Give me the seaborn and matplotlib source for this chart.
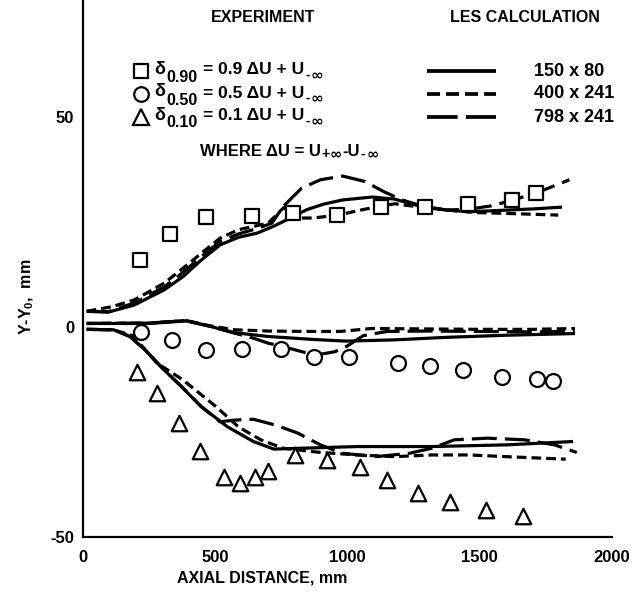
import matplotlib
matplotlib.use("Agg")
import matplotlib.pyplot as plt
import seaborn as sns
from matplotlib.lines import Line2D

sns.set_theme(style="white")
plt.rcParams['font.family'] = ['Liberation Sans', 'DejaVu Sans']
plt.rcParams['font.weight'] = 'bold'
plt.rcParams['mathtext.default'] = 'regular'
plt.rcParams['lines.scale_dashes'] = False

# ---------------- data ----------------
# experiment
sq_x = [216, 329, 466, 640, 795, 962, 1127, 1294, 1457, 1623, 1713]
sq_y = [16.0, 22.2, 26.2, 26.6, 27.2, 26.7, 28.6, 28.6, 29.3, 30.4, 32.0]
ci_x = [219, 336, 466, 603, 748, 874, 1006, 1190, 1313, 1438, 1584, 1716, 1776]
ci_y = [-1.2, -3.0, -5.4, -5.2, -5.2, -7.2, -7.2, -8.4, -9.2, -10.2, -11.8, -12.4, -12.9]
tr_x = [205, 282, 364, 444, 535, 593, 652, 701, 803, 923, 1048, 1150, 1266, 1389, 1523, 1663]
tr_y = [-10.6, -15.7, -22.7, -29.4, -35.7, -37.1, -35.7, -34.2, -30.4, -31.6, -33.2, -36.4, -39.5, -41.7, -43.5, -44.9]

# LES 150 x 80 (solid)
s90_x = [15, 97, 195, 308, 378, 448, 519, 588, 659, 720, 785, 847, 910, 982, 1094, 1179, 1263, 1375, 1460, 1572, 1712, 1811]
s90_y = [3.8, 3.6, 5.3, 8.9, 12.0, 16.0, 19.6, 21.4, 22.4, 24.0, 26.0, 28.0, 29.3, 30.3, 31.0, 30.5, 29.0, 27.9, 27.5, 27.8, 28.2, 28.6]
s50_x = [15, 250, 391, 476, 574, 701, 870, 996, 1179, 1375, 1600, 1860]
s50_y = [0.9, 0.9, 1.5, 0.3, -1.3, -2.2, -2.9, -3.3, -3.0, -2.4, -1.9, -1.5]
s10_x = [15, 116, 179, 242, 305, 368, 448, 547, 645, 722, 827, 1038, 1319, 1600, 1853]
s10_y = [-0.5, -0.6, -2.2, -5.8, -10.0, -13.8, -18.9, -23.7, -27.2, -29.0, -28.8, -28.4, -28.4, -28.0, -27.2]

# LES 400 x 241 (short dash)
d90_x = [15, 111, 195, 308, 378, 448, 519, 588, 701, 760, 800, 870, 965, 1066, 1179, 1263, 1375, 1488, 1600, 1797]
d90_y = [3.8, 4.9, 6.5, 10.5, 14.0, 17.6, 21.2, 23.2, 24.8, 28.5, 26.0, 26.0, 26.7, 28.1, 29.4, 28.7, 27.9, 27.3, 27.1, 26.7]
d50_x = [15, 250, 391, 476, 574, 700, 850, 973, 1090, 1300, 1500, 1700, 1860]
d50_y = [0.9, 1.0, 1.6, 0.4, -0.6, -0.9, -1.0, -1.0, -0.3, -0.4, -0.5, -0.5, -0.3]
d10_x = [15, 116, 190, 280, 378, 504, 588, 673, 757, 898, 1038, 1179, 1319, 1460, 1600, 1825]
d10_y = [-0.5, -0.6, -2.0, -8.5, -12.5, -18.9, -23.7, -26.8, -28.8, -29.8, -30.4, -30.8, -30.4, -30.4, -30.8, -31.4]

# LES 798 x 241 (long dash)
l90_x = [15, 97, 195, 308, 378, 448, 519, 588, 659, 715, 757, 827, 898, 982, 1066, 1137, 1207, 1291, 1375, 1460, 1544, 1628, 1727, 1839]
l90_y = [3.8, 3.7, 5.8, 9.6, 13.0, 16.8, 20.4, 22.2, 23.5, 24.8, 28.7, 33.1, 35.1, 36.0, 34.7, 32.3, 30.3, 28.7, 27.9, 28.1, 28.9, 30.3, 32.3, 35.1]
l50_x = [15, 250, 391, 476, 574, 645, 701, 757, 827, 884, 954, 996, 1060, 1150, 1300, 1500, 1700, 1860]
l50_y = [0.9, 1.0, 1.6, 0.3, -1.4, -2.6, -3.8, -4.6, -5.8, -6.6, -5.8, -4.6, -2.0, -1.0, -0.9, -1.0, -1.1, -1.0]
l10_x = [15, 116, 179, 242, 305, 368, 448, 519, 574, 645, 729, 813, 898, 982, 1108, 1235, 1319, 1404, 1530, 1670, 1783, 1867]
l10_y = [-0.5, -0.6, -2.2, -5.8, -10.0, -13.8, -18.9, -22.5, -22.1, -21.9, -23.3, -25.2, -28.0, -30.0, -30.8, -30.0, -28.8, -26.8, -26.4, -26.8, -28.0, -29.8]

x_ticks = [0, 500, 1000, 1500, 2000]
y_ticks = [-50, 0, 50]
exp_subs = ["0.90", "0.50", "0.10"]
exp_coefs = ["0.9", "0.5", "0.1"]
les_labels = ["150 x 80", "400 x 241", "798 x 241"]

# ---------------- figure ----------------
W, H = 642, 595
fig = plt.figure(figsize=(W / 100, H / 100), dpi=100)
ax = fig.add_axes([82.7 / W, 57.7 / H, 529.3 / W, 537.3 / H])
ax.set_xlim(0, 2000)
ax.set_ylim(-50, 77.9)

LW = 2.3
SHORT = (0, (7.0, 3.6))
LONG = (0, (18.0, 5.8))

def curve(x, y, ls):
    sns.lineplot(x=x, y=y, ax=ax, color='black', lw=LW, sort=False,
                 estimator=None, legend=False)
    ln = ax.lines[-1]
    ln.set_linestyle(ls)
    ln.set_solid_capstyle('butt')

for (x, y) in [(s90_x, s90_y), (s50_x, s50_y), (s10_x, s10_y)]:
    curve(x, y, '-')
for (x, y) in [(d90_x, d90_y), (d50_x, d50_y), (d10_x, d10_y)]:
    curve(x, y, SHORT)
for (x, y) in [(l90_x, l90_y), (l50_x, l50_y), (l10_x, l10_y)]:
    curve(x, y, LONG)

mk = dict(color='white', edgecolor='black', linewidth=1.6, ax=ax, legend=False, zorder=5)
sns.scatterplot(x=sq_x, y=sq_y, marker='s', s=105, **mk)
sns.scatterplot(x=ci_x, y=ci_y, marker='o', s=115, **mk)
sns.scatterplot(x=tr_x, y=tr_y, marker='^', s=125, **mk)

for sp in ['top', 'right']:
    ax.spines[sp].set_visible(False)
for sp in ['left', 'bottom']:
    ax.spines[sp].set_color('black')
    ax.spines[sp].set_linewidth(1.6)

ax.set_xticks(x_ticks)
ax.set_yticks(y_ticks)
ax.set_xticklabels([str(v) for v in x_ticks])
ax.set_yticklabels([str(v) for v in y_ticks])
ax.tick_params(axis='both', direction='in', length=16, width=1.4, color='black',
               labelsize=12, labelcolor='black')
ax.tick_params(axis='x', pad=9)
ax.tick_params(axis='y', pad=6)
for t in ax.get_xticklabels() + ax.get_yticklabels():
    t.set_fontweight('bold')

def fx(px):
    return px / W

def fy(py):
    return 1 - py / H

renderer = fig.canvas.get_renderer()

def compose(x0, y0, pieces):
    """pieces: list of (text, fontsize, dy_px, gap_px, family)"""
    x = x0
    for txt, fs, dy, gap, fam in pieces:
        t = fig.text(fx(x + gap), fy(y0 + dy), txt, ha='left', va='center',
                     fontsize=fs, fontweight='bold', color='black', family=fam)
        bb = t.get_window_extent(renderer=renderer)
        x = x + gap + bb.width

LIB = ['Liberation Sans', 'DejaVu Sans']
DJ = ['DejaVu Sans']

FS = 11.5
fig.text(fx(262), fy(578), "AXIAL DISTANCE, mm", ha='center', va='center',
         fontsize=FS, fontweight='bold', color='black')
fig.text(fx(27), fy(297), r"Y-Y$_0$,  mm", ha='center', va='center', rotation=90,
         fontsize=FS, fontweight='bold', color='black')

fig.text(fx(263), fy(18), "EXPERIMENT", ha='center', va='center', fontsize=FS,
         fontweight='bold', color='black')
fig.text(fx(525), fy(18), "LES CALCULATION", ha='center', va='center', fontsize=FS,
         fontweight='bold', color='black')

rows = [71, 94, 117]
marks = ['s', 'o', '^']
msz = [10, 10.5, 11]
leg_styles = ['-', (0, (9.4, 4.3)), (0, (22.0, 6.0))]
for i, r in enumerate(rows):
    fig.add_artist(Line2D([fx(141)], [fy(r)], marker=marks[i], markersize=msz[i],
                          markerfacecolor='white', markeredgecolor='black',
                          markeredgewidth=1.6, linestyle='none'))
    compose(154, r, [("δ", 13, -2, 0, LIB), (exp_subs[i], 11.5, 6, 1, LIB),
                     ("= " + exp_coefs[i] + " ΔU + U", 12.5, -1, 6, LIB),
                     ("-", 10, 4, 1, LIB), ("∞", 11, 4, 1, DJ)])
    fig.add_artist(Line2D([fx(427), fx(496)], [fy(r), fy(r)], color='black', lw=LW + 0.4,
                          linestyle=leg_styles[i], solid_capstyle='butt',
                          dash_capstyle='butt'))
    fig.text(fx(534), fy(r), les_labels[i], ha='left', va='center', fontsize=13,
             fontweight='bold', color='black')
compose(200, 151, [("WHERE ΔU = U", 12, 0, 0, LIB), ("+", 10, 3, 1, LIB),
                   ("∞", 10.5, 3, 0, DJ), ("-U", 12, 0, 0, LIB),
                   ("-", 10, 3, 1, LIB), ("∞", 10.5, 3, 1, DJ)])

fig.savefig("out.png", dpi=100, facecolor='white')
